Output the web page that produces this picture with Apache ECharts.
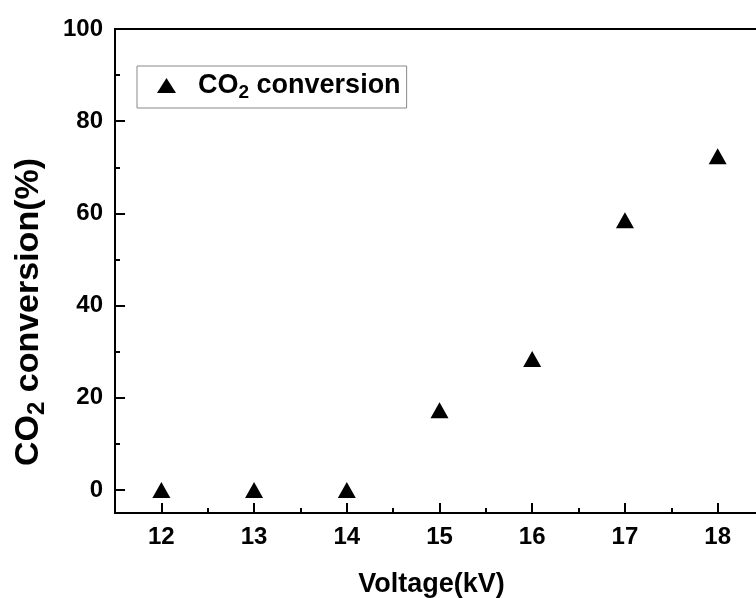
<!DOCTYPE html>
<html>
<head>
<meta charset="utf-8">
<script src="https://cdn.jsdelivr.net/npm/echarts@6/dist/echarts.min.js"></script>
<style>html,body{margin:0;padding:0;background:#fff}#c{width:756px;height:598px}</style>
</head>
<body>
<div id="c"></div>
<script>
const voltage = [12, 13, 14, 15, 16, 17, 18];
const conversion = [0, 0, 0, 17.3, 28.4, 58.5, 72.4];
const xMajorTicks = [12, 13, 14, 15, 16, 17, 18];
const xMinorTicks = [12.5, 13.5, 14.5, 15.5, 16.5, 17.5];
const yMajorTicks = [0, 20, 40, 60, 80, 100];
const yMinorTicks = [10, 30, 50, 70, 90];

const FONT = 'Liberation Sans, Arial, sans-serif';
const chart = echarts.init(document.getElementById('c'), null, {renderer: 'canvas'});

const subRich = (size) => ({
  a: {fontSize: size, fontWeight: 'bold', fontFamily: FONT, color: '#000'},
  s: {fontSize: Math.round(size * 0.72), fontWeight: 'bold', fontFamily: FONT, color: '#000', padding: [Math.round(size * 0.5), 0, 0, 0]}
});

chart.setOption({
  animation: false,
  backgroundColor: '#fff',
  grid: {left: 115, top: 29, right: -8, bottom: 85, outerBoundsMode: 'none', containLabel: false, show: true, borderColor: '#000', borderWidth: 2, backgroundColor: 'transparent'},
  legend: {
    left: 137, top: 66,
    padding: [6, 6, 6, 20],
    borderColor: '#888', borderWidth: 1, borderRadius: 0,
    itemWidth: 19, itemHeight: 15, icon: 'triangle',
    data: [{name: 'CO2 conversion', itemStyle: {color: '#000', opacity: 1}}],
    formatter: () => '{a|CO}{s|2}{a| conversion}',
    textStyle: {padding: [0, 0, 0, 17], rich: subRich(27)}
  },
  xAxis: [{
    type: 'value', min: 11.5, max: 18.5, position: 'bottom',
    name: 'Voltage(kV)', nameLocation: 'middle', nameGap: 58,
    nameTextStyle: {fontSize: 27, fontWeight: 'bold', fontFamily: FONT, color: '#000', padding: [0, 16, 0, 0]},
    axisLine: {onZero: false, lineStyle: {color: '#000', width: 2}},
    axisTick: {inside: true, length: 10, lineStyle: {color: '#000', width: 2}, customValues: xMajorTicks},
    axisLabel: {fontSize: 24, fontWeight: 'bold', fontFamily: FONT, color: '#000', margin: 12, customValues: xMajorTicks},
    splitLine: {show: false}
  }, {
    type: 'value', min: 11.5, max: 18.5, position: 'bottom',
    axisLine: {show: false, onZero: false},
    axisTick: {inside: true, length: 5, lineStyle: {color: '#000', width: 2}, customValues: xMinorTicks},
    axisLabel: {show: false},
    splitLine: {show: false}
  }],
  yAxis: [{
    type: 'value', min: -5, max: 100, position: 'left',
    name: '{a|CO}{s|2}{a| conversion(%)}', nameLocation: 'middle', nameGap: 66, nameRotate: 90,
    nameTextStyle: {rich: subRich(34), padding: [0, 82, 0, 0]},
    axisLine: {onZero: false, lineStyle: {color: '#000', width: 2}},
    axisTick: {inside: true, length: 10, lineStyle: {color: '#000', width: 2}, customValues: yMajorTicks},
    axisLabel: {fontSize: 24, fontWeight: 'bold', fontFamily: FONT, color: '#000', margin: 12, customValues: yMajorTicks},
    splitLine: {show: false}
  }, {
    type: 'value', min: -5, max: 100, position: 'left',
    axisLine: {show: false, onZero: false},
    axisTick: {inside: true, length: 5, lineStyle: {color: '#000', width: 2}, customValues: yMinorTicks},
    axisLabel: {show: false},
    splitLine: {show: false}
  }],
  series: [{
    name: 'CO2 conversion', type: 'scatter', xAxisIndex: 0, yAxisIndex: 0,
    symbol: 'triangle', symbolSize: [18, 16],
    itemStyle: {color: '#000', opacity: 1},
    data: voltage.map((v, i) => [v, conversion[i]])
  }]
});
</script>
</body>
</html>
